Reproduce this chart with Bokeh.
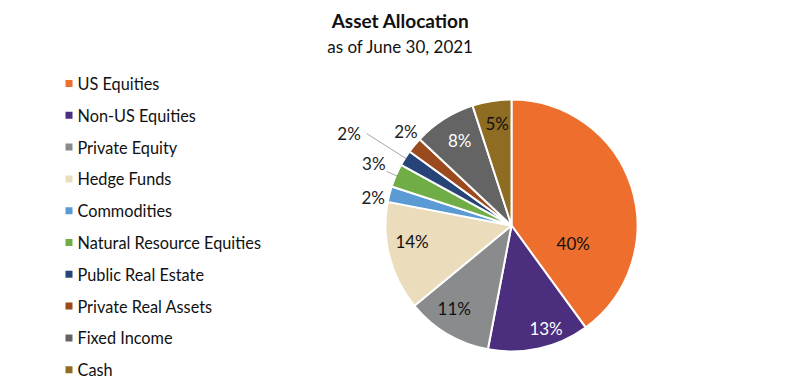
import math
from bokeh.plotting import figure
from bokeh.models import Range1d, ColumnDataSource
from bokeh.core.properties import value
from bokeh.embed import file_html
from bokeh.resources import INLINE

# ---- data ----
categories = ["US Equities", "Non-US Equities", "Private Equity", "Hedge Funds",
              "Commodities", "Natural Resource Equities", "Public Real Estate",
              "Private Real Assets", "Fixed Income", "Cash"]
shares = [40, 13, 11, 14, 2, 3, 2, 2, 8, 5]
title = "Asset Allocation"
subtitle = "as of June 30, 2021"

# ---- styles ----
colors = ["#EE6F2D", "#4B2E7E", "#898B8D", "#EBDCBC", "#5B9BD5",
          "#70AD47", "#264478", "#9A4A1E", "#646464", "#8E6C21"]
label_colors = ["#111111", "#FFFFFF", "#111111", "#111111", "#222222",
                "#222222", "#222222", "#222222", "#FFFFFF", "#111111"]
label_radius = [0.51, 0.86, 0.80, 0.80, 1.12, 1.20, 1.48, 1.12, 0.79, 0.82]
label_shift_deg = [34, -6, 4, 5, -3, 1, -3, 2, 1, 1]
leader_from = [None, None, None, None, None, 1.08, 1.36, None, None, None]

W, H = 800, 388
cx, cy, R = 511, 163, 126

p = figure(width=W, height=H, output_backend="svg", toolbar_location=None,
           x_range=Range1d(0, W), y_range=Range1d(0, H), min_border=0)
p.axis.visible = False
p.grid.visible = False
p.outline_line_color = None
p.background_fill_color = "white"
p.border_fill_color = "white"

total = float(sum(shares))
cum = 0.0
starts, ends, lx, ly, texts = [], [], [], [], []
lines_x, lines_y = [], []
for i, s in enumerate(shares):
    a0 = math.pi / 2 - cum / total * 2 * math.pi
    cum += s
    a1 = math.pi / 2 - cum / total * 2 * math.pi
    starts.append(a1)
    ends.append(a0)
    mid = (a0 + a1) / 2
    la = mid - math.radians(label_shift_deg[i])
    lx.append(cx + R * label_radius[i] * math.cos(la))
    ly.append(cy + R * label_radius[i] * math.sin(la))
    texts.append(f"{s}%")
    if leader_from[i] is not None:
        rs = leader_from[i]
        lines_x.append([cx + R * rs * math.cos(mid), cx + R * 0.99 * math.cos(mid)])
        lines_y.append([cy + R * rs * math.sin(mid), cy + R * 0.99 * math.sin(mid)])

src = ColumnDataSource(dict(start=starts, end=ends, color=colors))
p.wedge(x=cx, y=cy, radius=R, start_angle="start", end_angle="end",
        fill_color="color", line_color="white", line_width=2, source=src)

if lines_x:
    p.multi_line(xs=lines_x, ys=lines_y, line_color="#A6A6A6", line_width=1)

lsrc = ColumnDataSource(dict(x=lx, y=ly, t=texts, c=label_colors))
p.text(x="x", y="y", text="t", text_color="c", source=lsrc,
       text_font=value("Lato"), text_font_size="17px",
       text_align="center", text_baseline="middle")

# title
p.text(x=[400], y=[368], text=[title], text_font=value("Lato"),
       text_font_size="19px", text_font_style="bold", text_color="#111111",
       text_align="center", text_baseline="middle")
p.text(x=[400], y=[342], text=[subtitle], text_font=value("Lato"),
       text_font_size="17px", text_color="#111111",
       text_align="center", text_baseline="middle")

# legend
n = len(categories)
ly0, step = 305, 31.8
leg_y = [ly0 - i * step for i in range(n)]
p.rect(x=[68.5] * n, y=leg_y, width=7, height=7, fill_color=colors, line_color=None)
p.text(x=[77] * n, y=leg_y, text=categories, text_font=value("Lato"),
       text_font_size="16.3px", text_color="#111111",
       text_align="left", text_baseline="middle")

open("out.html", "w").write(file_html(p, INLINE))
